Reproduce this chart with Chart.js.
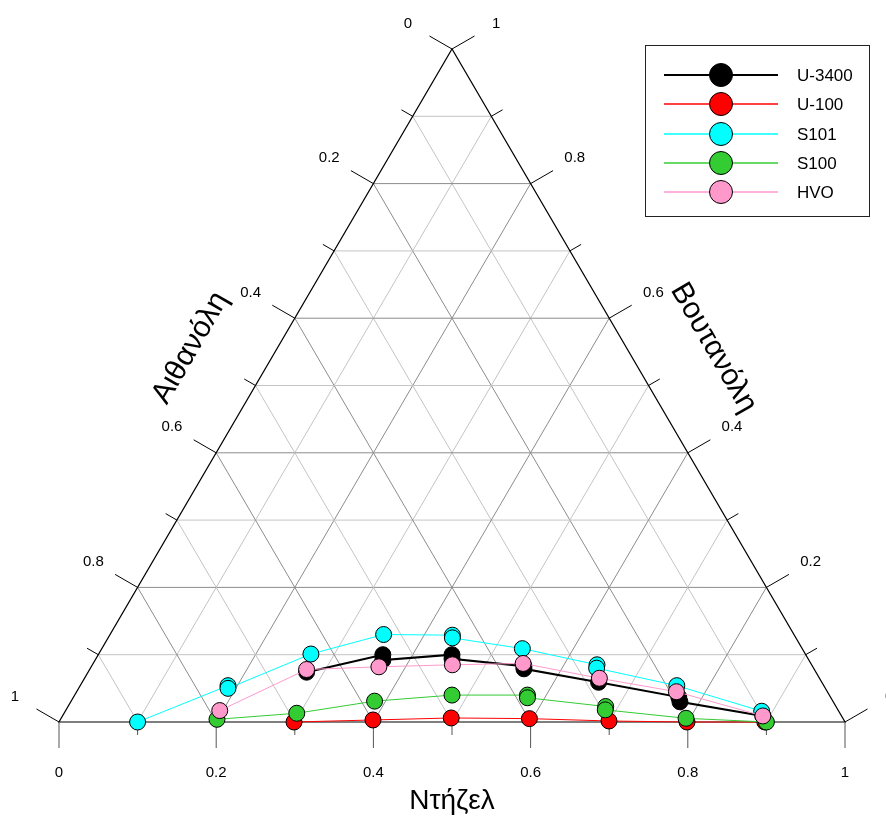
<!DOCTYPE html>
<html lang="el">
<head>
    <meta charset="UTF-8">
    <title>Τριμερές διάγραμμα Ντήζελ - Αιθανόλη - Βουτανόλη</title>
    <script src="https://cdn.jsdelivr.net/npm/chart.js"></script>
    <style>
        body {
            margin: 0;
            background: #fff;
        }
        #wrap {
            width: 886px;
            height: 816px;
        }
    </style>
</head>
<body>
<div id="wrap"><canvas id="ternary" width="886" height="816"></canvas></div>
<script>
    // Fuel series
    const seriesNames = ['U-3400', 'U-100', 'S101', 'S100', 'HVO'];
    const seriesColors = ['#000000', '#ff0000', '#00ffff', '#33cc33', '#ff99cc'];
    const seriesLineWidths = [2, 1, 1, 1, 1];

    // Compositions as fractions: diesel and butanol (ethanol = 1 - diesel - butanol)
    const dieselU3400  = [0.278, 0.362, 0.366, 0.450, 0.453, 0.550, 0.552, 0.657, 0.770, 0.775, 0.891];
    const butanolU3400 = [0.074, 0.100, 0.092, 0.100, 0.094, 0.083, 0.079, 0.059, 0.037, 0.030, 0.009];

    const dieselU100  = [0.299, 0.398, 0.496, 0.596, 0.699, 0.799, 0.898];
    const butanolU100 = [0.000, 0.003, 0.006, 0.005, 0.0015, 0.000, 0.000];

    const dieselS101  = [0.100, 0.188, 0.190, 0.270, 0.348, 0.436, 0.438, 0.535, 0.642, 0.644, 0.759, 0.886];
    const butanolS101 = [0.000, 0.054, 0.050, 0.101, 0.130, 0.129, 0.125, 0.109, 0.085, 0.080, 0.054, 0.016];

    const dieselS100  = [0.199, 0.296, 0.386, 0.480, 0.576, 0.578, 0.684, 0.686, 0.795, 0.900];
    const butanolS100 = [0.004, 0.013, 0.031, 0.040, 0.040, 0.036, 0.023, 0.018, 0.0055, 0.000];

    const dieselHVO  = [0.196, 0.276, 0.366, 0.458, 0.547, 0.655, 0.763, 0.891];
    const butanolHVO = [0.017, 0.078, 0.082, 0.085, 0.087, 0.065, 0.045, 0.009];

    const dieselSets = [dieselU3400, dieselU100, dieselS101, dieselS100, dieselHVO];
    const butanolSets = [butanolU3400, butanolU100, butanolS101, butanolS100, butanolHVO];

    // Axis ticks and titles
    const tickSteps = [0, 0.1, 0.2, 0.3, 0.4, 0.5, 0.6, 0.7, 0.8, 0.9, 1];
    const tickLabels = ['0', '0.2', '0.4', '0.6', '0.8', '1'];
    const titleDiesel = 'Ντήζελ';
    const titleEthanol = 'Αιθανόλη';
    const titleButanol = 'Βουτανόλη';

    const FONT = '"Liberation Sans", Arial, sans-serif';

    // ternary (diesel, butanol) -> plot coordinates
    function toXY(d, b) {
        return { x: d + b / 2, y: b };
    }

    const datasets = seriesNames.map((name, i) => ({
        label: name,
        data: dieselSets[i].map((d, j) => toXY(d, butanolSets[i][j])),
        showLine: true,
        borderColor: seriesColors[i],
        borderWidth: seriesLineWidths[i],
        backgroundColor: seriesColors[i],
        pointBackgroundColor: seriesColors[i],
        pointBorderColor: '#000',
        pointBorderWidth: 1,
        pointRadius: 8,
        pointHoverRadius: 8,
        clip: false,
        order: seriesNames.length - i
    }));

    // triangle, grid, ticks and axis titles
    const ternaryFrame = {
        id: 'ternaryFrame',
        beforeDatasetsDraw(chart) {
            const ctx = chart.ctx;
            const xs = chart.scales.x, ys = chart.scales.y;
            const P = (d, b) => [xs.getPixelForValue(d + b / 2), ys.getPixelForValue(b)];
            const line = (a, b) => {
                ctx.beginPath();
                ctx.moveTo(a[0], a[1]);
                ctx.lineTo(b[0], b[1]);
                ctx.stroke();
            };
            ctx.save();

            // grid lines every 0.1, darker on the 0.2 steps
            ctx.lineWidth = 1;
            for (let n = 1; n < 10; n++) {
                const k = n / 10;
                ctx.strokeStyle = n % 2 === 0 ? '#8c8c8c' : '#c4c4c4';
                line(P(0, k), P(1 - k, k));       // butanol = k
                line(P(k, 0), P(k, 1 - k));       // diesel = k
                line(P(1 - k, 0), P(0, 1 - k));   // ethanol = k
            }

            // triangle edges
            ctx.strokeStyle = '#000';
            ctx.lineWidth = 1.2;
            ctx.beginPath();
            const A = P(0, 0), B = P(1, 0), C = P(0, 1);
            ctx.moveTo(A[0], A[1]);
            ctx.lineTo(B[0], B[1]);
            ctx.lineTo(C[0], C[1]);
            ctx.closePath();
            ctx.stroke();

            // ticks + labels
            const c30 = Math.cos(Math.PI / 6), s30 = 0.5;
            const axes = [
                { at: k => P(k, 0), dir: [0, 1], color: '#555' },          // diesel (bottom)
                { at: k => P(0, 1 - k), dir: [-c30, -s30], color: '#000' }, // ethanol (left)
                { at: k => P(1 - k, k), dir: [c30, -s30], color: '#000' }   // butanol (right)
            ];
            ctx.font = '15px ' + FONT;
            ctx.textAlign = 'center';
            ctx.textBaseline = 'middle';
            axes.forEach(ax => {
                tickSteps.forEach((k, n) => {
                    const p = ax.at(k);
                    const major = n % 2 === 0;
                    const len = major ? 26 : 13;
                    ctx.strokeStyle = ax.color;
                    ctx.lineWidth = 1;
                    line(p, [p[0] + ax.dir[0] * len, p[1] + ax.dir[1] * len]);
                    if (major) {
                        ctx.fillStyle = '#000';
                        ctx.fillText(tickLabels[n / 2], p[0] + ax.dir[0] * 51, p[1] + ax.dir[1] * 51);
                    }
                });
            });

            // axis titles
            ctx.fillStyle = '#000';
            const mb = P(0.5, 0);
            ctx.font = '28px ' + FONT;
            ctx.fillText(titleDiesel, mb[0], mb[1] + 79);

            ctx.font = '30px ' + FONT;
            const ml = P(0, 0.5);
            ctx.save();
            ctx.translate(ml[0] - c30 * 75, ml[1] - s30 * 75);
            ctx.rotate(-Math.PI / 3);
            ctx.fillText(titleEthanol, 0, 0);
            ctx.restore();

            const mr = P(0.5, 0.5);
            ctx.save();
            ctx.translate(mr[0] + c30 * 75, mr[1] - s30 * 75);
            ctx.rotate(Math.PI / 3);
            ctx.fillText(titleButanol, 0, 0);
            ctx.restore();

            ctx.restore();
        }
    };

    // boxed legend, upper right
    const boxLegend = {
        id: 'boxLegend',
        afterDraw(chart) {
            const ctx = chart.ctx;
            ctx.save();
            ctx.strokeStyle = '#222';
            ctx.lineWidth = 1;
            ctx.strokeRect(645.5, 45.5, 224, 171);
            ctx.font = '17px ' + FONT;
            ctx.textAlign = 'left';
            ctx.textBaseline = 'middle';
            seriesNames.forEach((name, i) => {
                const y = Math.round(75 + i * 29.3);
                ctx.strokeStyle = seriesColors[i];
                ctx.lineWidth = i === 0 ? 2 : 1.5;
                ctx.beginPath();
                ctx.moveTo(664, y);
                ctx.lineTo(778, y);
                ctx.stroke();
                ctx.beginPath();
                ctx.arc(721, y, 11.5, 0, Math.PI * 2);
                ctx.fillStyle = seriesColors[i];
                ctx.fill();
                ctx.strokeStyle = '#000';
                ctx.lineWidth = 1;
                ctx.stroke();
                ctx.fillStyle = '#000';
                ctx.fillText(name, 797, y + 1);
            });
            ctx.restore();
        }
    };

    new Chart(document.getElementById('ternary'), {
        type: 'scatter',
        data: { datasets: datasets },
        options: {
            responsive: false,
            animation: false,
            layout: { padding: { left: 59, right: 41, top: 49, bottom: 94 } },
            scales: {
                x: { type: 'linear', min: 0, max: 1, display: false },
                y: { type: 'linear', min: 0, max: 1, display: false }
            },
            plugins: {
                legend: { display: false },
                tooltip: { enabled: false }
            }
        },
        plugins: [ternaryFrame, boxLegend]
    });
</script>
</body>
</html>
